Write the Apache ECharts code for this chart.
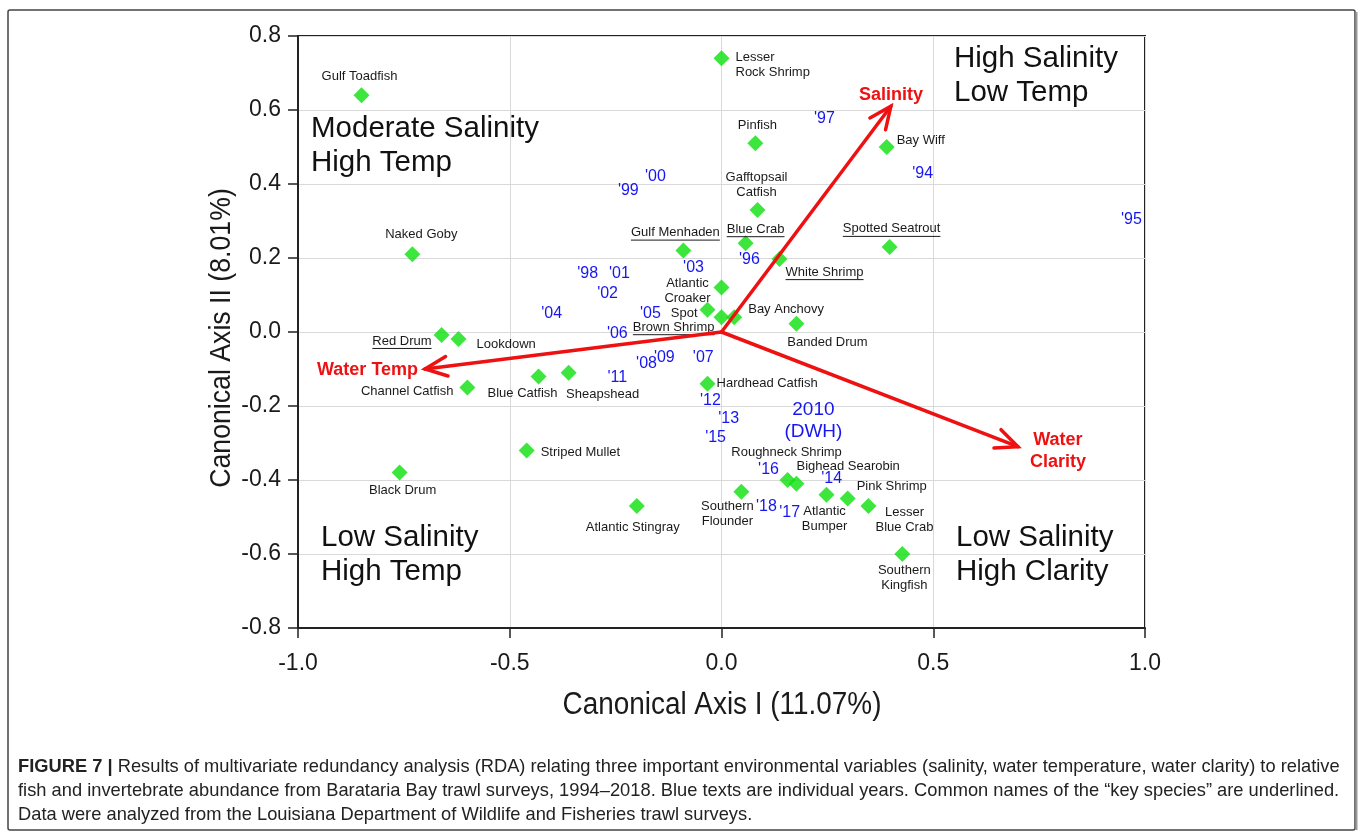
<!DOCTYPE html>
<html>
<head>
<meta charset="utf-8">
<script src="https://cdn.jsdelivr.net/npm/echarts@6/dist/echarts.min.js"></script>
<style>
html,body{margin:0;padding:0;background:#fff;}
#chart{width:1360px;height:835px;}
</style>
</head>
<body>
<div id="chart"></div>
<script>
// ---------------- DATA ----------------
const speciesNames = [
  'Gulf Toadfish','Naked Goby','Gulf Menhaden','Lesser\nRock Shrimp','Pinfish','Bay Wiff',
  'Gafftopsail\nCatfish','Blue Crab','Spotted Seatrout','White Shrimp','Atlantic\nCroaker','Spot',
  'Brown Shrimp','Bay Anchovy','Banded Drum','Red Drum','Lookdown','Channel Catfish',
  'Blue Catfish','Sheapshead','Striped Mullet','Black Drum','Atlantic Stingray','Hardhead Catfish',
  'Southern\nFlounder','Roughneck Shrimp','Bighead Searobin','Atlantic\nBumper','Pink Shrimp',
  'Lesser\nBlue Crab','Southern\nKingfish'
];
const speciesX = [
  -0.85, -0.73, -0.09, 0.00, 0.08, 0.39,
  0.085, 0.057, 0.397, 0.137, 0.00, -0.033,
  0.00, 0.03, 0.177, -0.661, -0.621, -0.60,
  -0.432, -0.361, -0.46, -0.76, -0.20, -0.033,
  0.047, 0.156, 0.177, 0.248, 0.298,
  0.347, 0.427
];
const speciesY = [
  0.64, 0.21, 0.22, 0.74, 0.51, 0.50,
  0.33, 0.24, 0.23, 0.197, 0.12, 0.06,
  0.04, 0.04, 0.022, -0.008, -0.019, -0.15,
  -0.12, -0.11, -0.32, -0.38, -0.47, -0.14,
  -0.432, -0.40, -0.41, -0.44, -0.45,
  -0.47, -0.60
];
const keySpecies = ['Gulf Menhaden','Blue Crab','Spotted Seatrout','White Shrimp','Brown Shrimp','Red Drum'];

const yearLabels = ["'94","'95","'96","'97","'98","'99","'00","'01","'02","'03","'04","'05","'06","'07","'08","'09","2010\n(DWH)","'11","'12","'13","'14","'15","'16","'17","'18"];
const yearX = [0.475, 0.968, 0.066, 0.243, -0.316, -0.22, -0.156, -0.241, -0.269, -0.066, -0.401, -0.168, -0.246, -0.043, -0.177, -0.135, 0.217, -0.246, -0.026, 0.017, 0.26, -0.014, 0.111, 0.161, 0.106];
const yearY = [0.427, 0.305, 0.195, 0.578, 0.157, 0.381, 0.419, 0.159, 0.105, 0.173, 0.049, 0.051, -0.003, -0.07, -0.086, -0.07, -0.24, -0.124, -0.186, -0.235, -0.397, -0.286, -0.373, -0.489, -0.473];

const envNames = ['Salinity', 'Water\nTemp', 'Water\nClarity'];
const envX = [0.40, -0.70, 0.70];
const envY = [0.61, -0.10, -0.31];

const xTicks = [-1.0, -0.5, 0.0, 0.5, 1.0];
const yTicks = [-0.8, -0.6, -0.4, -0.2, 0.0, 0.2, 0.4, 0.6, 0.8];

const quadrantTexts = ['High Salinity\nLow Temp', 'Moderate Salinity\nHigh Temp', 'Low Salinity\nHigh Temp', 'Low Salinity\nHigh Clarity'];

const xAxisName = 'Canonical Axis I (11.07%)';
const yAxisName = 'Canonical Axis II (8.01%)';
const captionLines = [
  'Results of multivariate redundancy analysis (RDA) relating three important environmental variables (salinity, water temperature, water clarity) to relative',
  'fish and invertebrate abundance from Barataria Bay trawl surveys, 1994\u20132018. Blue texts are individual years. Common names of the \u201ckey species\u201d are underlined.',
  'Data were analyzed from the Louisiana Department of Wildlife and Fisheries trawl surveys.'
];

// ---------------- LAYOUT (label offsets in px, not data) ----------------
const speciesLabelLayout = {
  'Gulf Toadfish': [-2, -19, 'center'],
  'Naked Goby': [9, -20, 'center'],
  'Gulf Menhaden': [-8, -18, 'center'],
  'Lesser\nRock Shrimp': [14, 7, 'left'],
  'Pinfish': [2, -18, 'center'],
  'Bay Wiff': [10, -7, 'left'],
  'Gafftopsail\nCatfish': [-1, -25, 'center'],
  'Blue Crab': [10, -14, 'center'],
  'Spotted Seatrout': [2, -18, 'center'],
  'White Shrimp': [6, 13, 'left'],
  'Atlantic\nCroaker': [-34, 3, 'center'],
  'Spot': [-10, 4, 'right'],
  'Brown Shrimp': [-7, 10, 'right'],
  'Bay Anchovy': [14, -8, 'left'],
  'Banded Drum': [31, 19, 'center'],
  'Red Drum': [-10, 6, 'right'],
  'Lookdown': [18, 5, 'left'],
  'Channel Catfish': [-14, 4, 'right'],
  'Blue Catfish': [-16, 17, 'center'],
  'Sheapshead': [34, 22, 'center'],
  'Striped Mullet': [14, 2, 'left'],
  'Black Drum': [3, 18, 'center'],
  'Atlantic Stingray': [-4, 22, 'center'],
  'Hardhead Catfish': [9, 0, 'left'],
  'Southern\nFlounder': [-14, 22, 'center'],
  'Roughneck Shrimp': [-1, -28, 'center'],
  'Bighead Searobin': [0, -17, 'left'],
  'Atlantic\nBumper': [-2, 24, 'center'],
  'Pink Shrimp': [44, -12, 'center'],
  'Lesser\nBlue Crab': [36, 14, 'center'],
  'Southern\nKingfish': [2, 24, 'center']
};
const envLabelLayout = {
  'Salinity': [0, -11, 'center'],
  'Water\nTemp': [-7, 1, 'right'],
  'Water\nClarity': [40, 4, 'center']
};

const GRID = {left: 298, top: 36, right: 1360 - 1145, bottom: 835 - 628};
const FONT = '"Liberation Sans", Arial, sans-serif';
const SP_FONT = '13px ' + FONT;
const measureCtx = document.createElement('canvas').getContext('2d');

const chart = echarts.init(document.getElementById('chart'), null, {renderer: 'canvas'});

function speciesLabelItem(params, api) {
  const i = params.dataIndex;
  const name = speciesNames[i];
  const p = api.coord([api.value(0), api.value(1)]);
  const lay = speciesLabelLayout[name] || [0, -18, 'center'];
  const x = p[0] + lay[0], y = p[1] + lay[1];
  const children = [{
    type: 'text',
    style: {
      text: name, x: x, y: y, align: lay[2], verticalAlign: 'middle',
      font: SP_FONT, fill: '#1a1a1a', lineHeight: 15
    }
  }];
  if (keySpecies.indexOf(name) >= 0) {
    measureCtx.font = SP_FONT;
    const w = measureCtx.measureText(name).width;
    let x0 = x;
    if (lay[2] === 'center') x0 = x - w / 2;
    else if (lay[2] === 'right') x0 = x - w;
    children.push({
      type: 'line',
      shape: {x1: x0, y1: y + 7.5, x2: x0 + w, y2: y + 7.5},
      style: {stroke: '#1a1a1a', lineWidth: 1}
    });
  }
  return {type: 'group', children: children};
}

function yearLabelItem(params, api) {
  const i = params.dataIndex;
  const txt = yearLabels[i];
  const p = api.coord([api.value(0), api.value(1)]);
  const big = txt.indexOf('\n') >= 0;
  return {
    type: 'text',
    style: {
      text: txt, x: p[0], y: p[1], align: 'center', verticalAlign: 'middle',
      font: (big ? '19px ' : '16px ') + FONT,
      fill: '#1616f0', lineHeight: big ? 22 : 18
    }
  };
}

function arrowItem(params, api) {
  const i = params.dataIndex;
  const name = envNames[i];
  const p0 = api.coord([0, 0]);
  const p1 = api.coord([api.value(0), api.value(1)]);
  const ang = Math.atan2(p1[1] - p0[1], p1[0] - p0[0]);
  const L = 24, a = 0.42;
  const h1 = [p1[0] - L * Math.cos(ang - a), p1[1] - L * Math.sin(ang - a)];
  const h2 = [p1[0] - L * Math.cos(ang + a), p1[1] - L * Math.sin(ang + a)];
  const lay = envLabelLayout[name];
  const txt = name === 'Water\nTemp' ? 'Water Temp' : name;
  const red = '#ee1111';
  return {
    type: 'group',
    children: [
      {type: 'line', shape: {x1: p0[0], y1: p0[1], x2: p1[0], y2: p1[1]},
        style: {stroke: red, lineWidth: 3.5, lineCap: 'round'}},
      {type: 'polyline', shape: {points: [h1, p1, h2]},
        style: {stroke: red, lineWidth: 3.5, fill: null, lineJoin: 'miter', lineCap: 'round'}},
      {type: 'text', style: {
        text: txt, x: p1[0] + lay[0], y: p1[1] + lay[1], align: lay[2], verticalAlign: 'middle',
        font: 'bold 18px ' + FONT, fill: red, lineHeight: 22
      }}
    ]
  };
}

const speciesData = speciesNames.map((n, i) => [speciesX[i], speciesY[i]]);
const yearData = yearLabels.map((n, i) => [yearX[i], yearY[i]]);
const envData = envNames.map((n, i) => [envX[i], envY[i]]);

const quadPos = [
  {left: 954, top: 42}, {left: 311, top: 112}, {left: 321, top: 521}, {left: 956, top: 521}
];

const graphics = quadrantTexts.map((t, i) => ({
  type: 'text', left: quadPos[i].left, top: quadPos[i].top, z: 5,
  style: {text: t, font: '29.5px ' + FONT, fill: '#111', lineHeight: 34}
}));
// outer frame
graphics.push({
  type: 'rect', x: 8, y: 10, z: -1,
  shape: {x: 0, y: 0, width: 1347, height: 820, r: 2},
  style: {fill: 'none', stroke: '#444', lineWidth: 1.5}
});
graphics.push({
  type: 'line', z: -1,
  shape: {x1: 1356.5, y1: 12, x2: 1356.5, y2: 830},
  style: {stroke: '#999', lineWidth: 2}
});
// axis names (condensed via scaleX)
graphics.push({
  type: 'text', x: 722, y: 705, scaleX: 0.9,
  style: {text: xAxisName, x: 0, y: 0, align: 'center', verticalAlign: 'middle',
    font: '31px ' + FONT, fill: '#1a1a1a'}
});
graphics.push({
  type: 'text', x: 222, y: 338, rotation: Math.PI / 2, scaleX: 0.92,
  style: {text: yAxisName, x: 0, y: 0, align: 'center', verticalAlign: 'middle',
    font: '29px ' + FONT, fill: '#1a1a1a'}
});
// caption
const capFont = '19px ' + FONT;
const capScale = 0.963;
graphics.push({
  type: 'text', x: 18, y: 767, scaleX: capScale,
  style: {
    text: '{b|FIGURE 7 |} ' + captionLines[0], x: 0, y: 0, verticalAlign: 'middle',
    rich: {b: {font: 'bold ' + capFont, fill: '#222'}},
    font: capFont, fill: '#222'
  }
});
graphics.push({
  type: 'text', x: 18, y: 791, scaleX: capScale,
  style: {text: captionLines[1], x: 0, y: 0, verticalAlign: 'middle', font: capFont, fill: '#222'}
});
graphics.push({
  type: 'text', x: 18, y: 815, scaleX: capScale,
  style: {text: captionLines[2], x: 0, y: 0, verticalAlign: 'middle', font: capFont, fill: '#222'}
});

chart.setOption({
  animation: false,
  backgroundColor: '#fff',
  grid: {left: GRID.left, top: GRID.top, right: GRID.right, bottom: GRID.bottom,
    show: true, borderColor: '#222', borderWidth: 2, containLabel: false},
  xAxis: {
    type: 'value', min: xTicks[0], max: xTicks[xTicks.length - 1], interval: 0.5,
    axisLine: {show: true, onZero: false, lineStyle: {color: '#222', width: 2}},
    axisTick: {show: true, inside: false, length: 10, lineStyle: {color: '#222', width: 1.5}},
    axisLabel: {fontFamily: FONT, fontSize: 23, color: '#1a1a1a', margin: 24,
      formatter: v => v.toFixed(1)},
    splitLine: {show: true, lineStyle: {color: '#d9d9d9', width: 1}}
  },
  yAxis: {
    type: 'value', min: yTicks[0], max: yTicks[yTicks.length - 1], interval: 0.2,
    axisLine: {show: true, onZero: false, lineStyle: {color: '#222', width: 2}},
    axisTick: {show: true, inside: false, length: 10, lineStyle: {color: '#222', width: 1.5}},
    axisLabel: {fontFamily: FONT, fontSize: 23, color: '#1a1a1a', margin: 17,
      formatter: v => v.toFixed(1)},
    splitLine: {show: true, lineStyle: {color: '#d9d9d9', width: 1}}
  },
  graphic: graphics,
  series: [
    {
      type: 'scatter', name: 'species', data: speciesData, z: 3,
      symbol: 'diamond', symbolSize: 16,
      itemStyle: {color: '#0be00b'}
    },
    {
      type: 'custom', name: 'speciesLabels', data: speciesData, z: 4,
      renderItem: speciesLabelItem, clip: false
    },
    {
      type: 'custom', name: 'years', data: yearData, z: 4,
      renderItem: yearLabelItem, clip: false
    },
    {
      type: 'custom', name: 'env', data: envData, z: 6,
      renderItem: arrowItem, clip: false
    }
  ]
});
</script>
</body>
</html>
